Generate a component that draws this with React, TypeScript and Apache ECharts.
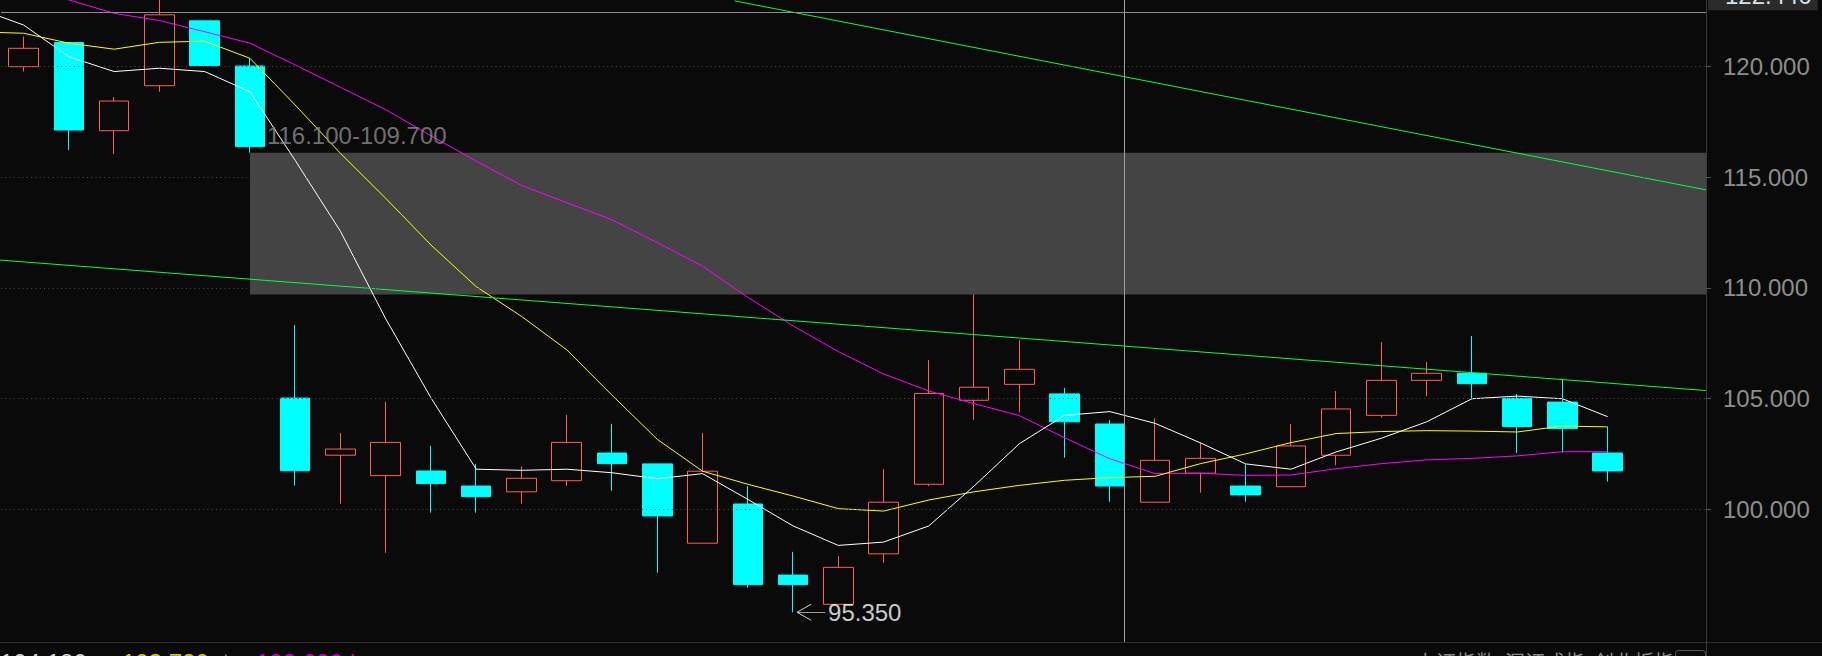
import React, { useEffect, useRef } from 'react';
import * as echarts from 'echarts';

// ---------- data ----------
const CATEGORIES: string[] = [
  'K1','K2','K3','K4','K5','K6','K7','K8','K9','K10','K11','K12','K13','K14','K15','K16','K17','K18',
  'K19','K20','K21','K22','K23','K24','K25','K26','K27','K28','K29','K30','K31','K32','K33','K34','K35','K36','',''
];

// [open, close, low, high]
const OHLC: number[][] = [
  [119.98, 120.81, 119.76, 121.34],
  [121.07, 117.12, 116.22, 121.07],
  [117.09, 118.43, 116.04, 118.61],
  [119.12, 122.32, 118.85, 123.0],
  [122.05, 120.03, 120.03, 122.05],
  [120.01, 116.37, 116.1, 120.36],
  [105.02, 101.74, 101.07, 108.32],
  [102.44, 102.72, 100.25, 103.44],
  [101.52, 103.02, 98.04, 104.85],
  [101.73, 101.16, 99.85, 102.86],
  [101.05, 100.57, 99.85, 102.05],
  [100.79, 101.4, 100.25, 101.94],
  [101.29, 103.02, 101.05, 104.26],
  [102.54, 102.06, 100.84, 103.85],
  [102.05, 99.7, 97.14, 102.05],
  [98.47, 101.72, 98.47, 103.44],
  [100.24, 96.6, 96.46, 101.05],
  [97.03, 96.6, 95.35, 98.07],
  [95.71, 97.38, 95.71, 97.89],
  [97.99, 100.32, 97.59, 101.81],
  [101.13, 105.23, 101.05, 106.74],
  [104.92, 105.51, 104.04, 109.7],
  [105.64, 106.32, 104.38, 107.64],
  [105.21, 103.95, 102.33, 105.48],
  [103.85, 101.05, 100.34, 104.03],
  [100.32, 102.21, 100.32, 104.11],
  [101.63, 102.3, 100.75, 103.02],
  [101.05, 100.65, 100.34, 102.03],
  [101.02, 102.86, 101.02, 103.85],
  [102.44, 104.53, 101.99, 105.34],
  [104.24, 105.82, 104.14, 107.55],
  [105.82, 106.14, 105.1, 106.65],
  [106.14, 105.67, 104.99, 107.82],
  [105.01, 103.73, 102.54, 105.21],
  [104.84, 103.64, 102.56, 105.86],
  [102.54, 101.73, 101.25, 103.72],
];

// moving averages; first value belongs to the bar just left of the view (index -1)
const MA_START = -1;
const MA5: number[] = [
  122.6, 121.86, 120.43, 119.76, 119.91, 119.76, 118.85, 115.75, 112.55, 108.6, 105.03, 101.81, 101.76,
  101.81, 101.65, 101.38, 101.61, 100.45, 99.25, 98.37, 98.52, 99.25, 101.05, 102.96, 104.24, 104.41,
  103.88, 103.0, 102.05, 101.81, 102.59, 103.21, 103.95, 104.99, 105.11, 104.99, 104.18,
];
const MA10: number[] = [
  121.55, 121.49, 121.04, 120.77, 121.08, 121.13, 120.36, 118.25, 116.07, 114.04, 111.93, 110.05, 108.71,
  107.2, 105.15, 103.16, 101.72, 101.13, 100.6, 100.03, 99.92, 100.42, 100.79, 101.08, 101.31, 101.43,
  101.49, 102.06, 102.5, 103.01, 103.42, 103.51, 103.55, 103.53, 103.49, 103.76, 103.72,
];
const MA20: number[] = [
  124.2, 123.6, 122.99, 122.39, 122.06, 121.56, 121.04, 120.06, 119.05, 118.04, 116.86, 115.72, 114.62,
  113.84, 113.07, 112.04, 110.98, 109.57, 108.28, 107.12, 106.11, 105.34, 104.77, 104.23, 103.23, 102.28,
  101.61, 101.63, 101.53, 101.55, 101.83, 102.06, 102.23, 102.3, 102.41, 102.6, 102.6,
];

// trend lines: [barIndex, price]
const TREND_UPPER: number[][] = [[15.71, 122.95], [37.17, 114.42]];
const TREND_LOWER: number[][] = [[-0.52, 111.25], [37.17, 105.36]];

const GAP_START = 5;
const GAP_END = 37.17;
const GAP_TOP = 116.1;
const GAP_BOTTOM = 109.7;

const LOW_INDEX = 17;
const LOW_VALUE = 95.35;

const PRICE_LINE = 122.44;
const CROSS_X = 24.32;

const Y_TICKS = [100, 105, 110, 115, 120];
const Y_MIN = 94.01;
const Y_MAX = 122.99;

const LEGEND_VALUES = ['104.180', '103.720', '102.600'];
const INDEX_NAMES = ['上证指数', '深证成指', '创业板指'];

// ---------- layout / style ----------
const W = 1822;
const H = 656;
const SLOT = 45.26;
const LEFT = 1;
const PLOT_RIGHT = 1706;
const PLOT_H = 642;
const N_SLOTS = 38;
const X_MAX = (PLOT_RIGHT - LEFT) / SLOT - 0.5;

const BG = '#0a0a0a';
const RED = '#ff5c5c';
const CYAN = '#00ffff';
const GREEN = '#00ff40';
const NUM_FONT = '"Liberation Sans", Arial, sans-serif';

const pairs = (arr: number[]) => arr.map((v, i) => [i + MA_START, v]);

function buildOption(): any {
  return {
    animation: false,
    backgroundColor: BG,
    grid: [
      { left: LEFT, top: 0, width: PLOT_RIGHT - LEFT, height: PLOT_H },
      { left: LEFT, top: 0, width: N_SLOTS * SLOT, height: PLOT_H },
    ],
    xAxis: [
      { type: 'value', gridIndex: 0, min: -0.5, max: X_MAX, show: false },
      { type: 'category', gridIndex: 1, data: CATEGORIES, boundaryGap: true, show: false },
    ],
    yAxis: [
      {
        type: 'value',
        gridIndex: 0,
        position: 'right',
        min: Y_MIN,
        max: Y_MAX,
        splitLine: { show: false },
        axisLine: { show: true, onZero: false, lineStyle: { color: '#3a3a3a', width: 1 } },
        axisTick: { show: true, length: 5, lineStyle: { color: '#555555' }, customValues: Y_TICKS },
        axisLabel: {
          show: true,
          customValues: Y_TICKS,
          margin: 17,
          color: '#8e8e8e',
          fontSize: 24,
          fontFamily: NUM_FONT,
          padding: [14, 0, 0, 0],
          formatter: (v: number) => (Y_TICKS.indexOf(Math.round(v * 1000) / 1000) >= 0 ? v.toFixed(3) : ''),
        },
      },
      { type: 'value', gridIndex: 1, min: Y_MIN, max: Y_MAX, show: false },
    ],
    graphic: [
      { type: 'line', shape: { x1: 0, y1: PLOT_H + 0.5, x2: W, y2: PLOT_H + 0.5 }, style: { stroke: '#2e2e2e', lineWidth: 1 }, silent: true },
      { type: 'line', shape: { x1: PLOT_RIGHT + 0.5, y1: PLOT_H, x2: PLOT_RIGHT + 0.5, y2: H }, style: { stroke: '#3a3a3a', lineWidth: 1 }, silent: true },
      { type: 'text', x: 0, y: 650, style: { text: LEGEND_VALUES[0] + ' ↑', fill: '#d0d0d0', font: '24px ' + NUM_FONT }, silent: true },
      { type: 'text', x: 122, y: 650, style: { text: LEGEND_VALUES[1] + ' ★', fill: '#c8c800', font: '24px ' + NUM_FONT }, silent: true },
      { type: 'text', x: 256, y: 650, style: { text: LEGEND_VALUES[2] + ' |', fill: '#c000c0', font: '24px ' + NUM_FONT }, silent: true },
      { type: 'text', x: 1416, y: 651, style: { text: INDEX_NAMES.join('  '), fill: '#8a8a8a', font: '20px "Noto Sans CJK SC"' }, silent: true },
      { type: 'rect', shape: { x: 1675.5, y: 650.5, width: 30, height: 20, r: 3 }, style: { fill: 'none', stroke: '#555555', lineWidth: 1 }, silent: true },
    ],
    series: [
      {
        name: 'frame',
        type: 'line',
        xAxisIndex: 0,
        yAxisIndex: 0,
        data: [],
        z: 1,
        silent: true,
        markArea: {
          silent: true,
          z: 1,
          itemStyle: { color: '#444444' },
          label: { show: false },
          data: [[{ coord: [GAP_START, GAP_TOP] }, { coord: [GAP_END, GAP_BOTTOM] }]],
        },
        markLine: {
          silent: true,
          symbol: ['none', 'none'],
          label: { show: false },
          lineStyle: { color: '#4c4c4c', type: [1, 3.3], width: 1 },
          data: Y_TICKS.map((v) => ({ yAxis: v })),
        },
      },
      {
        name: 'K',
        type: 'candlestick',
        xAxisIndex: 1,
        yAxisIndex: 1,
        z: 2,
        barWidth: 30,
        data: OHLC,
        itemStyle: {
          color: 'transparent',
          color0: CYAN,
          borderColor: RED,
          borderColor0: CYAN,
          borderWidth: 1,
        },
      },
      {
        name: 'MA20', type: 'line', xAxisIndex: 0, yAxisIndex: 0, z: 3, data: pairs(MA20),
        showSymbol: false, symbol: 'none', lineStyle: { color: '#ff00ff', width: 1 },
      },
      {
        name: 'MA10', type: 'line', xAxisIndex: 0, yAxisIndex: 0, z: 3, data: pairs(MA10),
        showSymbol: false, symbol: 'none', lineStyle: { color: '#ffff00', width: 1 },
      },
      {
        name: 'MA5', type: 'line', xAxisIndex: 0, yAxisIndex: 0, z: 3, data: pairs(MA5),
        showSymbol: false, symbol: 'none', lineStyle: { color: '#ffffff', width: 1 },
      },
      {
        name: 'trendUpper', type: 'line', xAxisIndex: 0, yAxisIndex: 0, z: 3, data: TREND_UPPER,
        showSymbol: false, symbol: 'none', lineStyle: { color: GREEN, width: 1 },
      },
      {
        name: 'trendLower', type: 'line', xAxisIndex: 0, yAxisIndex: 0, z: 3, data: TREND_LOWER,
        showSymbol: false, symbol: 'none', lineStyle: { color: GREEN, width: 1 },
      },
      {
        name: 'cursor',
        type: 'line',
        xAxisIndex: 0,
        yAxisIndex: 0,
        data: [],
        z: 4,
        markLine: {
          silent: true,
          symbol: ['none', 'none'],
          label: { show: false },
          lineStyle: { color: '#a0a0a0', type: 'solid', width: 1 },
          data: [
            { xAxis: CROSS_X },
            {
              yAxis: PRICE_LINE,
              lineStyle: { color: '#8e8e8e', type: 'solid', width: 1 },
              label: {
                show: true,
                position: 'end',
                distance: 2,
                formatter: PRICE_LINE.toFixed(3),
                color: '#dce4ec',
                fontSize: 24,
                fontFamily: NUM_FONT,
                lineHeight: 24,
                backgroundColor: '#2b2b2b',
                padding: [3, 6, 3, 17],
                offset: [0, -17],
              },
            },
          ],
        },
      },
      {
        name: 'gapLabel',
        type: 'scatter',
        xAxisIndex: 0,
        yAxisIndex: 0,
        z: 5,
        symbolSize: 0,
        silent: true,
        data: [[GAP_START, GAP_TOP]],
        label: {
          show: true,
          position: 'right',
          distance: 17,
          offset: [0, -17],
          formatter: GAP_TOP.toFixed(3) + '-' + GAP_BOTTOM.toFixed(3),
          color: '#8c8c8c',
          fontSize: 24,
          fontFamily: NUM_FONT,
        },
      },
      {
        name: 'lowArrow',
        type: 'scatter',
        xAxisIndex: 0,
        yAxisIndex: 0,
        z: 5,
        silent: true,
        symbol: 'path://M0 8 L28 8 M0 8 L14 0 M0 8 L14 16',
        symbolSize: [28, 16],
        symbolOffset: [18, 0],
        itemStyle: { color: 'transparent', borderColor: '#ffffff', borderWidth: 1 },
        data: [[LOW_INDEX, LOW_VALUE]],
      },
      {
        name: 'lowLabel',
        type: 'scatter',
        xAxisIndex: 0,
        yAxisIndex: 0,
        z: 5,
        silent: true,
        symbolSize: 0,
        data: [[LOW_INDEX, LOW_VALUE]],
        label: {
          show: true,
          position: 'right',
          distance: 35,
          formatter: LOW_VALUE.toFixed(3),
          color: '#ffffff',
          fontSize: 24,
          fontFamily: NUM_FONT,
        },
      },
    ],
  };
}

export default function App() {
  const ref = useRef<HTMLDivElement>(null);
  useEffect(() => {
    document.body.style.margin = '0';
    document.body.style.background = BG;
    const chart = echarts.init(ref.current as HTMLDivElement, null, { renderer: 'svg' });
    chart.setOption(buildOption());
    return () => chart.dispose();
  }, []);
  return <div ref={ref} style={{ width: W, height: H, overflow: 'hidden' }} />;
}
